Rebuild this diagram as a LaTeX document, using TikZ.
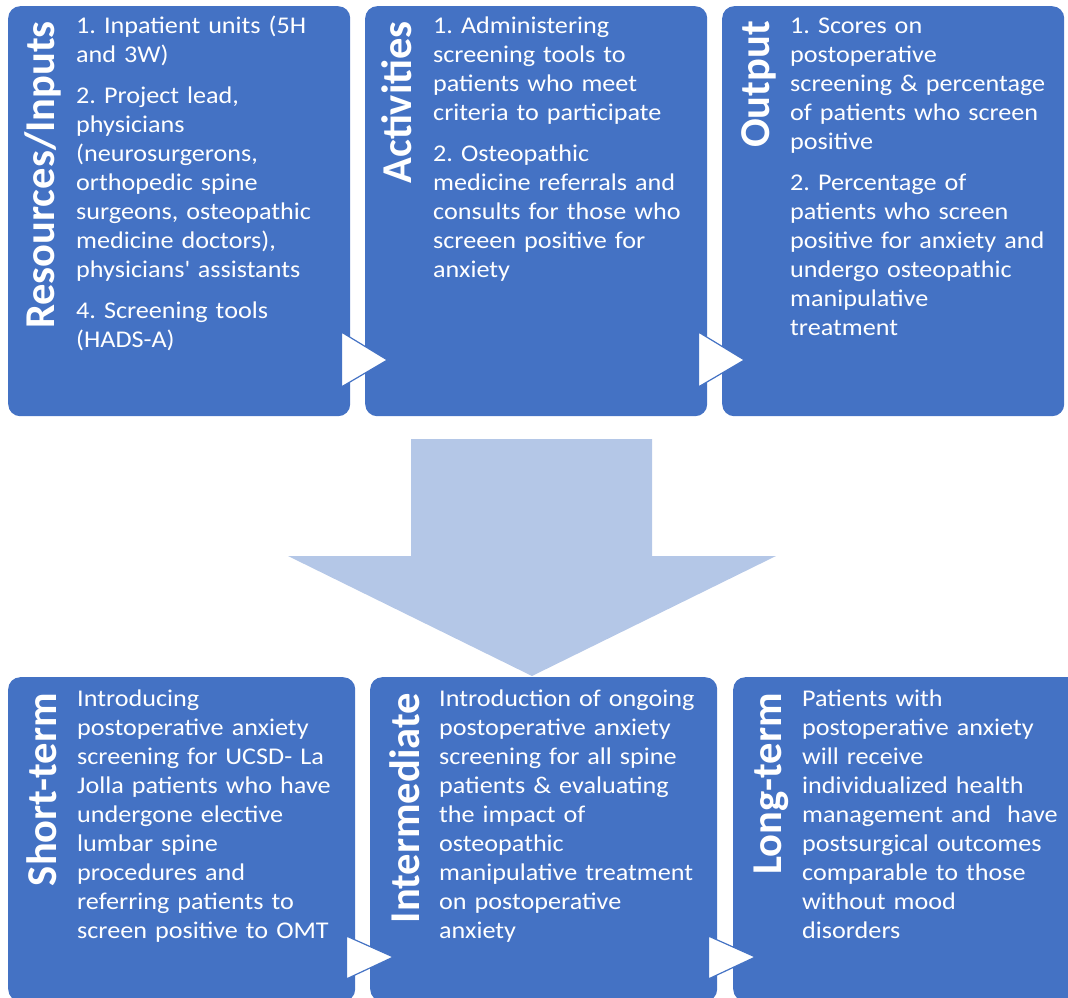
\documentclass[tikz,border=0pt]{standalone}
\usepackage{fontspec}
\usepackage{tikz}
\usetikzlibrary{calc}
\setmainfont{Carlito}
\newfontfamily\bodyfam[FakeStretch=1.09]{Carlito}
\definecolor{boxblue}{HTML}{4472C4}
\definecolor{flowblue}{HTML}{B4C7E7}
\frenchspacing

\begin{document}
\begin{tikzpicture}[x=1pt,y=-1pt,
    panel/.style={fill=boxblue,rounded corners=12pt,inner sep=0,anchor=north west},
    heading/.style={rotate=90,anchor=base east,inner sep=0,text=white,
      font=\fontsize{42.5}{50}\selectfont\bfseries},
    body/.style={anchor=base west,inner sep=0,text=white,text width=290pt,align=left,
      font=\bodyfam\fontsize{24}{29}\selectfont},
    chevron/.style={fill=white,draw=boxblue,line width=1.2pt,line join=miter}]
      \useasboundingbox (0,0) rectangle (1068,998);
      \clip (0,0) rectangle (1068,998);

      % big arrow between the rows
      \fill[flowblue] (411,439) -- (652,439) -- (652,556) -- (776,556) -- (532,676)
         -- (288,556) -- (411,556) -- cycle;

      % top row
      \node[panel,minimum width=342pt,minimum height=410pt] (inputs) at (8,6) {};
      \node[panel,minimum width=342pt,minimum height=410pt] (activ) at (365,6) {};
      \node[panel,minimum width=342pt,minimum height=410pt] (output) at (722,6) {};

      \node[heading] (inputsT) at ($(inputs.north west)+(46,15)$) {Resources/Inputs};
      \node[heading] (activT) at ($(activ.north west)+(46,15)$) {Activities};
      \node[heading] (outputT) at ($(output.north west)+(47,15)$) {Output};

      \node[body] (inputsB) at ($(inputs.north west)+(68,28)$) {1. Inpatient units (5H\\
        and 3W)\\[12pt]
        2. Project lead,\\ physicians\\ (neurosurgerons,\\ orthopedic spine\\
        surgeons, osteopathic\\ medicine doctors),\\
        physicians\textquotesingle{} assistants\\[12pt]
        4. Screening tools\\ (HADS-A)};
      \node[body] (activB) at ($(activ.north west)+(68,28)$) {1. Administering\\
        screening tools to\\ patients who meet\\ criteria to participate\\[12pt]
        2. Osteopathic\\ medicine referrals and\\ consults for those who\\
        screeen positive for\\ anxiety};
      \node[body] (outputB) at ($(output.north west)+(68,28)$) {1. Scores on\\
        postoperative\\ screening \& percentage\\ of patients who screen\\ positive\\[12pt]
        2. Percentage of\\ patients who screen\\ positive for anxiety and\\
        undergo osteopathic\\ manipulative\\ treatment};

      \draw[chevron] ($(inputs.north east)+(-9,326)$) -- ($(inputs.north east)+(37,354)$)
         -- ($(inputs.north east)+(-9,381)$) -- cycle;
      \draw[chevron] ($(activ.north east)+(-9,326)$) -- ($(activ.north east)+(37,354)$)
         -- ($(activ.north east)+(-9,381)$) -- cycle;

      % bottom row
      \node[panel,minimum width=347pt,minimum height=324pt] (short) at (8,677) {};
      \node[panel,minimum width=347pt,minimum height=324pt] (inter) at (370,677) {};
      \node[panel,minimum width=347pt,minimum height=324pt] (long) at (733,677) {};

      \node[heading] (shortT) at ($(short.north west)+(48,16)$) {Short-term};
      \node[heading] (interT) at ($(inter.north west)+(49,16)$) {Intermediate};
      \node[heading] (longT) at ($(long.north west)+(48,16)$) {Long-term};

      \node[body] (shortB) at ($(short.north west)+(69,29)$) {Introducing\\
        postoperative anxiety\\ screening for UCSD- La\\ Jolla patients who have\\
        undergone elective\\ lumbar spine\\ procedures and\\ referring patients to\\
        screen positive to OMT};
      \node[body] (interB) at ($(inter.north west)+(69,29)$) {Introduction of ongoing\\
        postoperative anxiety\\ screening for all spine\\ patients \& evaluating\\
        the impact of\\ osteopathic\\ manipulative treatment\\ on postoperative\\ anxiety};
      \node[body] (longB) at ($(long.north west)+(69,29)$) {Patients with\\
        postoperative anxiety\\ will receive\\ individualized health\\
        management and\ \ have\\ postsurgical outcomes\\ comparable to those\\
        without mood\\ disorders};

      \draw[chevron] ($(short.north east)+(-9,259)$) -- ($(short.north east)+(38,280)$)
         -- ($(short.north east)+(-9,302)$) -- cycle;
      \draw[chevron] ($(inter.north east)+(-9,259)$) -- ($(inter.north east)+(38,280)$)
         -- ($(inter.north east)+(-9,302)$) -- cycle;
   \end{tikzpicture}
\end{document}
